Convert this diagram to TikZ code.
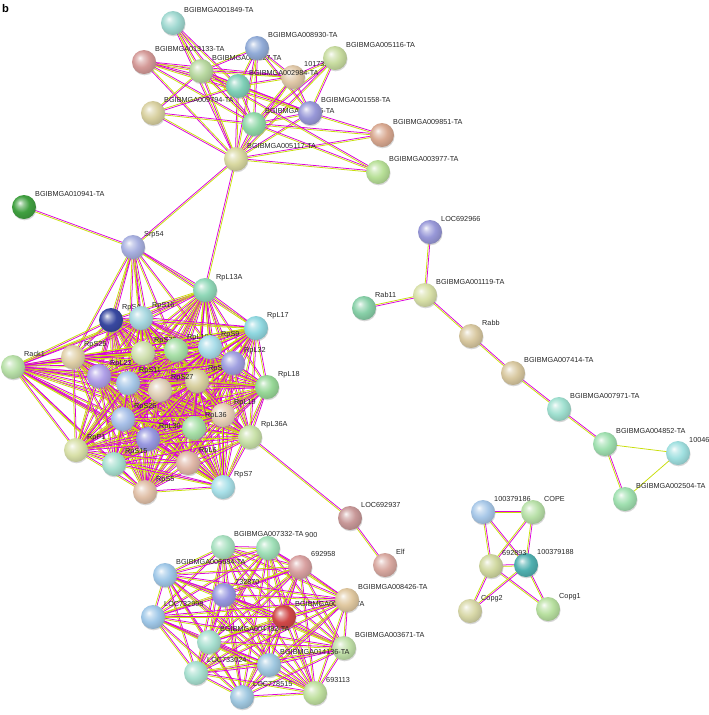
\documentclass[tikz,border=0pt]{standalone}
\usepackage{fontspec}
\setmainfont{Liberation Sans}
\usetikzlibrary{calc,shadows}
\pgfdeclarelayer{links}
\pgfsetlayers{links,main}

\definecolor{expcol}{RGB}{220,0,220}
\definecolor{txtcol}{RGB}{200,222,10}
\definecolor{pcol}{HTML}{A0C8E8}
% glossy ball, rebuilt for each value of pcol
\pgfdeclareradialshading[pcol]{protball}{\pgfpoint{-9bp}{9bp}}{%
  color(0bp)=(pcol!8!white); color(7bp)=(pcol!55!white);
  color(17bp)=(pcol); color(27bp)=(pcol!88!black);
  color(34bp)=(pcol!72!black); color(50bp)=(pcol!65!black)}

% protein ball with its label: name, x, y, colour, text
\newcommand{\prot}[5]{%
  \definecolor{pcol}{HTML}{#4}%
  \node[protein] (#1) at (#2,#3) {};
  \node[plabel] (#1-l) at (#2+11,#3-11) {#5};}
% two-colour link (experiments + text mining)
\newcommand{\pplink}[2]{%
  \draw[explink] ($(#1)!0.6pt!90:(#2)$) -- ($(#2)!0.6pt!-90:(#1)$);
  \draw[txtlink] ($(#1)!0.6pt!-90:(#2)$) -- ($(#2)!0.6pt!90:(#1)$);}
% text mining only
\newcommand{\tmlink}[2]{\draw[txtlink] (#1.center) -- (#2.center);}

\def\ribolist{RpL13A,RpSA,RpS16,RpL17,Rack1,RpS25,RpS23,RpL10A,RpS9,RpL32,RpL18,RpL23,RpS11,RpS27,RpS3,RpS26,RpL30,RpL36,RpL19,RpL36A,RpP1,RpS15,RpL6,RpS5,RpS7}
\def\botlist{n7332,n900,p692958,n6684,p732870,LOC732998,n8413,n8426,n4782,n3671,n14136,LOC733024,LOC778515,p693113}

\begin{document}
\begin{tikzpicture}[
    x=0.03cm, y=-0.03cm,
    protein/.style={
        circle,
        minimum size=0.72cm,
        inner sep=0pt,
        shading=protball,
        drop shadow={shadow xshift=0.5pt, shadow yshift=-1.1pt, fill=black!40, opacity=0.4}
    },
    plabel/.style={
        anchor=base west,
        inner sep=0pt,
        text=black!85,
        font=\fontsize{6.2}{7}\selectfont
    },
    explink/.style={draw=expcol, line width=0.65pt},
    txtlink/.style={draw=txtcol, line width=0.65pt}
]
\useasboundingbox (0,0) rectangle (709,715);

\node[anchor=base west, inner sep=0pt, font=\bfseries\fontsize{9.5}{11}\selectfont] (panel) at (2,12) {b};

% upper cluster
\prot{n1849}{173}{23}{9FD8D0}{BGIBMGA001849-TA}
\prot{n13133}{144}{62}{D49A98}{BGIBMGA013133-TA}
\prot{n4527}{201}{71}{B8D8A0}{BGIBMGA004527-TA}
\prot{n10173}{293}{77}{E0C8A8}{101735470}
\prot{n2984}{238}{86}{80D0B8}{BGIBMGA002984-TA}
\prot{n8930}{257}{48}{92ACD8}{BGIBMGA008930-TA}
\prot{n5116}{335}{58}{C8DCA0}{BGIBMGA005116-TA}
\prot{n9794}{153}{113}{D8D0A0}{BGIBMGA009794-TA}
\prot{n5126}{254}{124}{90D8A8}{BGIBMGA005126-TA}
\prot{n1558}{310}{113}{9898D8}{BGIBMGA001558-TA}
\prot{n9851}{382}{135}{D8A890}{BGIBMGA009851-TA}
\prot{n5117}{236}{159}{D8D8A0}{BGIBMGA005117-TA}
\prot{n3977}{378}{172}{B8E098}{BGIBMGA003977-TA}
\prot{n10941}{24}{207}{40A040}{BGIBMGA010941-TA}

% ribosome cluster
\prot{Srp54}{133}{247}{A8B0E0}{Srp54}
\prot{RpL13A}{205}{290}{90D8B8}{RpL13A}
\prot{RpSA}{111}{320}{3848A0}{RpSA}
\prot{RpS16}{141}{318}{A8D8E0}{RpS16}
\prot{RpL17}{256}{328}{90D8E0}{RpL17}
\prot{Rack1}{13}{367}{B8E0A8}{Rack1}
\prot{RpS25}{73}{357}{E0D0A8}{RpS25}
\prot{RpS23}{143}{353}{D0E0B0}{RpS23}
\prot{RpL10A}{176}{350}{A8E0A8}{RpL10A}
\prot{RpS9}{210}{347}{A8DCE8}{RpS9}
\prot{RpS3}{197}{381}{D8D0A0}{RpS3}
\prot{RpL32}{233}{363}{A0A0E0}{RpL32}
\prot{RpL18}{267}{387}{98D898}{RpL18}
\prot{RpL23}{99}{376}{B0A0E8}{RpL23}
\prot{RpS11}{128}{383}{A8C8E8}{RpS11}
\prot{RpS27}{160}{390}{E0D0B8}{RpS27}
\prot{RpS26}{123}{419}{A8C0E8}{RpS26}
\prot{RpL19}{223}{415}{E8D0B8}{RpL19}
\prot{RpL36}{194}{428}{A8E0A8}{RpL36}
\prot{RpL30}{148}{439}{9898E0}{RpL30}
\prot{RpL36A}{250}{437}{C8E0A8}{RpL36A}
\prot{RpP1}{76}{450}{D8E0A8}{RpP1}
\prot{RpS15}{114}{464}{A8E0D0}{RpS15}
\prot{RpL6}{188}{463}{E0B8A8}{RpL6}
\prot{RpS5}{145}{492}{E0C0A8}{RpS5}
\prot{RpS7}{223}{487}{A8E0E8}{RpS7}
\prot{LOC692937}{350}{518}{C89898}{LOC692937}
\prot{Elf}{385}{565}{D8A8A0}{Elf}

% chain on the right
\prot{LOC692966}{430}{232}{9898D8}{LOC692966}
\prot{n1119}{425}{295}{D8E0A8}{BGIBMGA001119-TA}
\prot{Rab11}{364}{308}{88D0A8}{Rab11}
\prot{Rabb}{471}{336}{D8C8A0}{Rabb}
\prot{n7414}{513}{373}{D8C8A0}{BGIBMGA007414-TA}
\prot{n7971}{559}{409}{A0E0D0}{BGIBMGA007971-TA}
\prot{n4852}{605}{444}{A0E0B0}{BGIBMGA004852-TA}
\prot{n10046}{678}{453}{A0E0E0}{100466043}
\prot{n2504}{625}{499}{A0E0B0}{BGIBMGA002504-TA}

% coatomer group
\prot{p186}{483}{512}{A8C8E8}{100379186}
\prot{COPE}{533}{512}{B8E0A8}{COPE}
\prot{p188}{526}{565}{50B0B0}{100379188}
\prot{p692893}{491}{566}{D0D8A0}{692893}
\prot{Copg2}{470}{611}{D8D8A8}{Copg2}
\prot{Copg1}{548}{609}{B8E0A0}{Copg1}

% lower cluster
\prot{n7332}{223}{547}{A8E0C0}{BGIBMGA007332-TA}
\definecolor{pcol}{HTML}{A0E0B8}
\node[protein] (n900) at (268,548) {};
\node[plabel] (n900-l) at (305,537) {900};
\prot{p692958}{300}{567}{D8A0A0}{692958}
\prot{n6684}{165}{575}{A0C8E8}{BGIBMGA006684-TA}
\prot{p732870}{224}{595}{9898E0}{732870}
\prot{LOC732998}{153}{617}{A0C8E8}{LOC732998}
\prot{n8413}{284}{617}{D04848}{BGIBMGA008413-TA}
\prot{n8426}{347}{600}{E0C8A0}{BGIBMGA008426-TA}
\prot{n4782}{209}{642}{A8E0D0}{BGIBMGA004782-TA}
\prot{n3671}{344}{648}{C0E0A8}{BGIBMGA003671-TA}
\prot{n14136}{269}{665}{A0C8E0}{BGIBMGA014136-TA}
\prot{LOC733024}{196}{673}{A8E0D0}{LOC733024}
\prot{LOC778515}{242}{697}{A0C8E0}{LOC778515}
\prot{p693113}{315}{693}{C0E0A0}{693113}

\begin{pgfonlayer}{links}
\foreach \a/\b in {n5117/n1849, n5117/n13133, n5117/n4527, n5117/n10173,
    n5117/n2984, n5117/n8930, n5117/n5116, n5117/n9794, n5117/n5126,
    n5117/n1558, n5117/n9851, n5117/n3977,
    n1849/n4527, n1849/n2984, n1849/n5126,
    n13133/n4527, n13133/n2984, n13133/n5126, n13133/n1558, n13133/n10173,
    n8930/n4527, n8930/n2984, n8930/n10173, n8930/n5126, n8930/n1558,
    n4527/n2984, n4527/n5126, n4527/n10173, n4527/n1558, n4527/n9794,
    n2984/n5126, n2984/n10173, n2984/n1558, n2984/n9794,
    n10173/n5116, n10173/n1558, n10173/n5126, n5116/n1558, n5116/n5126,
    n9794/n5126, n5126/n1558, n5126/n9851, n5126/n3977, n4527/n3977,
    n1558/n9851}
    {\pplink{\a}{\b}}

\pplink{n10941}{Srp54}
\pplink{Srp54}{n5117}
\pplink{RpL13A}{n5117}
\foreach \b in {RpSA,RpS16,RpS25,RpL23,RpS23,RpS11,RpL10A,RpS9,RpL13A,RpL17,RpS27}
    {\pplink{Srp54}{\b}}

\foreach \a [count=\i] in \ribolist {
    \foreach \b [count=\j] in \ribolist {
        \ifnum\j>\i\relax \pplink{\a}{\b}\fi
    }
}

\pplink{RpL36A}{LOC692937}
\pplink{LOC692937}{Elf}

\foreach \a/\b in {LOC692966/n1119, n1119/Rab11, n1119/Rabb, Rabb/n7414,
    n7414/n7971, n7971/n4852, n4852/n2504}
    {\pplink{\a}{\b}}
\tmlink{n4852}{n10046}
\tmlink{n10046}{n2504}

\foreach \a/\b in {p186/COPE, p186/p692893, p186/p188, COPE/p692893, COPE/p188,
    p692893/p188, p692893/Copg2, p692893/Copg1, p188/Copg2, p188/Copg1}
    {\pplink{\a}{\b}}

\foreach \a [count=\i] in \botlist {
    \foreach \b [count=\j] in \botlist {
        \ifnum\j>\i\relax \pplink{\a}{\b}\fi
    }
}
\end{pgfonlayer}

\end{tikzpicture}
\end{document}
